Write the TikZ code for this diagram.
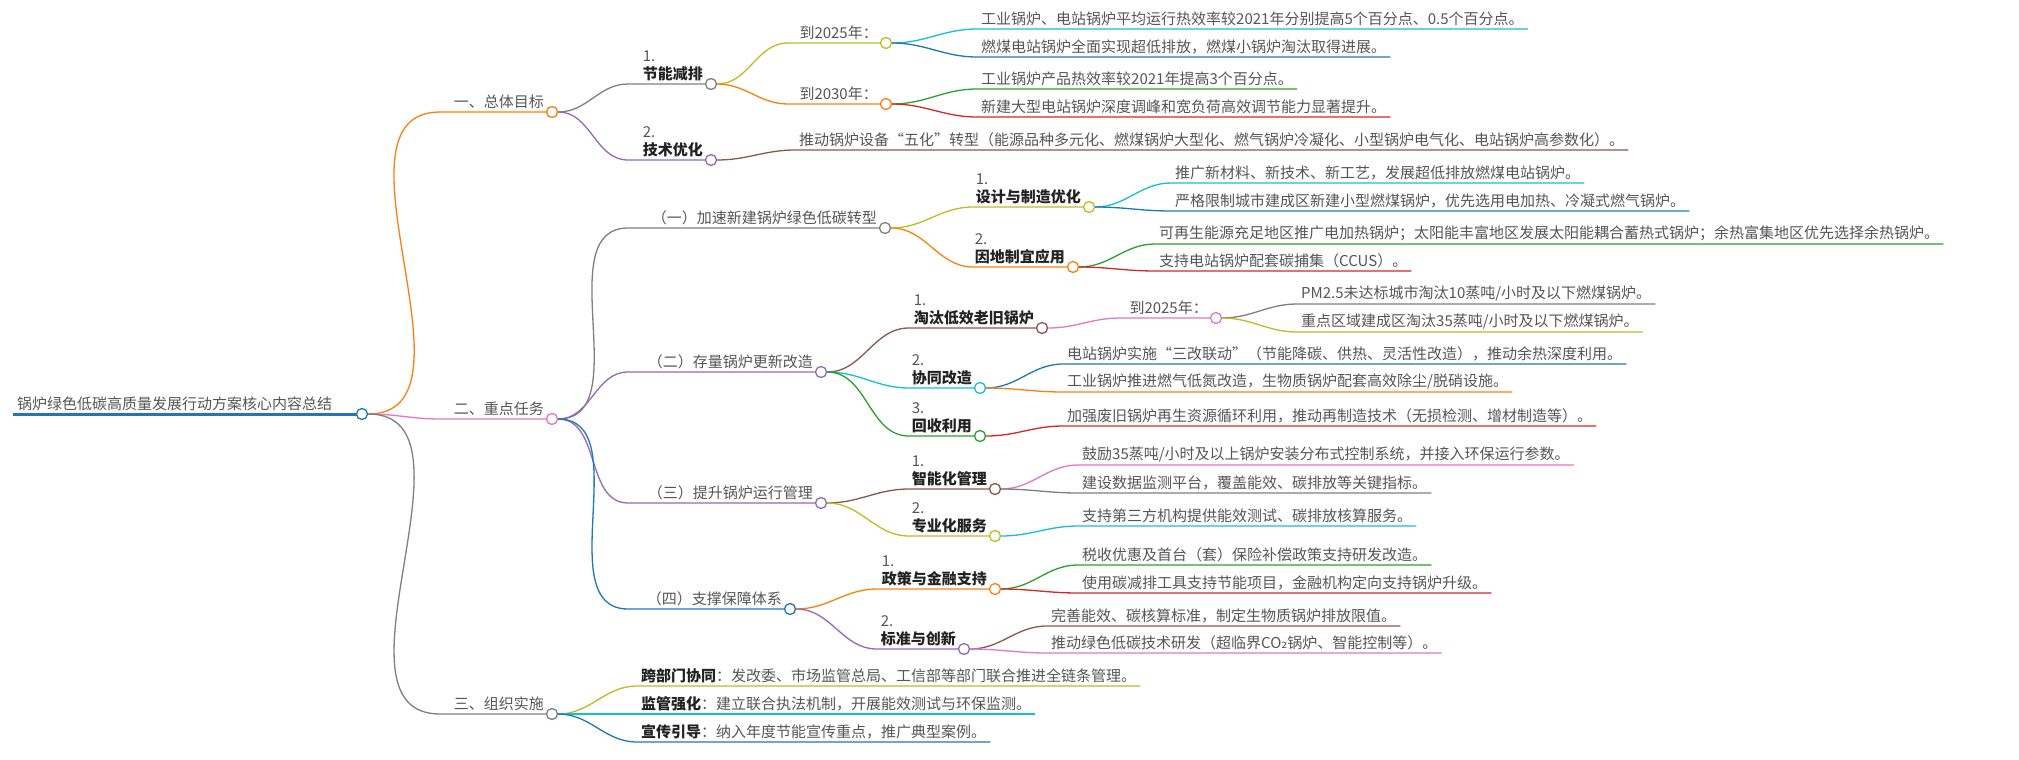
\documentclass[tikz,border=0pt]{standalone}
\usepackage{fontspec}
\setmainfont{Noto Sans CJK SC}
\newfontfamily\dejavu{DejaVu Sans}
\definecolor{cor}{HTML}{FF7F0E}
\definecolor{cpk}{HTML}{E377C2}
\definecolor{cgy}{HTML}{7F7F7F}
\definecolor{cpu}{HTML}{9467BD}
\definecolor{col}{HTML}{BCBD22}
\definecolor{ccy}{HTML}{17BECF}
\definecolor{cbl}{HTML}{1F77B4}
\definecolor{cgr}{HTML}{2CA02C}
\definecolor{crd}{HTML}{D62728}
\definecolor{cbr}{HTML}{8C564B}
\definecolor{tgray}{HTML}{555555}
\definecolor{tdark}{HTML}{222222}
\tikzset{
 txt/.style={font=\fontsize{15}{19}\selectfont, text=tgray, inner xsep=4pt, inner ysep=3pt, align=left},
 edge/.style={line width=1.3pt},
 circ/.style={circle, fill=white, line width=1.3pt, minimum size=11pt, inner sep=0pt},
}
\newcommand\mnode[7]{%
 \draw[edge,#3] (#2.east) to[out=0,in=180] (#4,#5) -- (#6,#5);
 \node[txt,anchor=south east] (#1t) at (#6-4,#5) {#7};
 \node[circ,draw=#3] (#1) at (#6,#5) {};
}
\newcommand\lnode[6]{%
 \node[txt,anchor=south west] (#1) at (#4-4,#5) {#6};
 \draw[edge,#3] (#2.east) to[out=0,in=180] (#1.south west) -- (#1.south east);
}
\newcommand\bl[2]{#1\\[-1pt]{\bfseries\color{tdark}#2}}
\begin{document}
\begin{tikzpicture}[x=1pt,y=-1pt]
\useasboundingbox (0,0) rectangle (2019,760);
% root
\coordinate (rs) at (13,414);
\draw[cbl,line width=3pt] (rs) -- (362,414);
\node[txt,anchor=south west] (roott) at (rs) {锅炉绿色低碳高质量发展行动方案核心内容总结};
\node[circ,draw=cbl] (root) at (362,414) {};
% level 1
\mnode{A}{root}{cor}{440}{112}{552}{一、总体目标}
\mnode{B}{root}{cpk}{440}{419}{552}{二、重点任务}
\mnode{C}{root}{cgy}{440}{714}{552}{三、组织实施}
% A
\mnode{A1}{A}{cgy}{628}{84}{711}{\bl{1.}{节能减排}}
\mnode{A2}{A}{cpu}{628}{160}{711}{\bl{2.}{技术优化}}
\mnode{A11}{A1}{col}{788}{43}{886}{到2025年：}
\mnode{A12}{A1}{cor}{788}{104}{886}{到2030年：}
\lnode{a1}{A11}{ccy}{981}{29}{工业锅炉、电站锅炉平均运行热效率较2021年分别提高5个百分点、0.5个百分点。}
\lnode{a2}{A11}{cbl}{981}{57}{燃煤电站锅炉全面实现超低排放，燃煤小锅炉淘汰取得进展。}
\lnode{a3}{A12}{cgr}{981}{89}{工业锅炉产品热效率较2021年提高3个百分点。}
\lnode{a4}{A12}{crd}{981}{117}{新建大型电站锅炉深度调峰和宽负荷高效调节能力显著提升。}
\lnode{a5}{A2}{cbr}{799}{150}{推动锅炉设备“五化”转型（能源品种多元化、燃煤锅炉大型化、燃气锅炉冷凝化、小型锅炉电气化、电站锅炉高参数化）。}
% B
\mnode{B1}{B}{cgy}{628}{228}{885}{（一）加速新建锅炉绿色低碳转型}
\mnode{B2}{B}{cpu}{628}{372}{821}{（二）存量锅炉更新改造}
\mnode{B3}{B}{cpu}{628}{503}{821}{（三）提升锅炉运行管理}
\mnode{B4}{B}{cbl}{628}{609}{790}{（四）支撑保障体系}
\mnode{B11}{B1}{col}{973}{207}{1089}{\bl{1.}{设计与制造优化}}
\mnode{B12}{B1}{cor}{973}{267}{1073}{\bl{2.}{因地制宜应用}}
\lnode{b1}{B11}{ccy}{1175}{183}{推广新材料、新技术、新工艺，发展超低排放燃煤电站锅炉。}
\lnode{b2}{B11}{cbl}{1175}{211}{严格限制城市建成区新建小型燃煤锅炉，优先选用电加热、冷凝式燃气锅炉。}
\lnode{b3}{B12}{cgr}{1159}{244}{可再生能源充足地区推广电加热锅炉；太阳能丰富地区发展太阳能耦合蓄热式锅炉；余热富集地区优先选择余热锅炉。}
\lnode{b4}{B12}{crd}{1159}{271}{支持电站锅炉配套碳捕集（CCUS）。}
\mnode{B21}{B2}{cbr}{909}{328}{1042}{\bl{1.}{淘汰低效老旧锅炉}}
\mnode{B22}{B2}{ccy}{909}{388}{980}{\bl{2.}{协同改造}}
\mnode{B23}{B2}{cgr}{909}{436}{980}{\bl{3.}{回收利用}}
\mnode{B211}{B21}{cpk}{1120}{318}{1216}{到2025年：}
\lnode{b5}{B211}{cgy}{1301}{304}{PM2.5未达标城市淘汰10蒸吨/小时及以下燃煤锅炉。}
\lnode{b6}{B211}{col}{1301}{332}{重点区域建成区淘汰35蒸吨/小时及以下燃煤锅炉。}
\lnode{b7}{B22}{cbl}{1067}{364}{电站锅炉实施“三改联动”（节能降碳、供热、灵活性改造），推动余热深度利用。}
\lnode{b8}{B22}{cor}{1067}{392}{工业锅炉推进燃气低氮改造，生物质锅炉配套高效除尘/脱硝设施。}
\lnode{b9}{B23}{crd}{1067}{426}{加强废旧锅炉再生资源循环利用，推动再制造技术（无损检测、增材制造等）。}
\mnode{B31}{B3}{cbr}{909}{489}{995}{\bl{1.}{智能化管理}}
\mnode{B32}{B3}{col}{909}{536}{995}{\bl{2.}{专业化服务}}
\lnode{b10}{B31}{cpk}{1082}{465}{鼓励35蒸吨/小时及以上锅炉安装分布式控制系统，并接入环保运行参数。}
\lnode{b11}{B31}{cgy}{1082}{493}{建设数据监测平台，覆盖能效、碳排放等关键指标。}
\lnode{b12}{B32}{ccy}{1082}{526}{支持第三方机构提供能效测试、碳排放核算服务。}
\mnode{B41}{B4}{cor}{877}{589}{995}{\bl{1.}{政策与金融支持}}
\mnode{B42}{B4}{cpu}{877}{649}{964}{\bl{2.}{标准与创新}}
\lnode{b13}{B41}{cgr}{1082}{565}{税收优惠及首台（套）保险补偿政策支持研发改造。}
\lnode{b14}{B41}{crd}{1082}{593}{使用碳减排工具支持节能项目，金融机构定向支持锅炉升级。}
\lnode{b15}{B42}{cbr}{1051}{626}{完善能效、碳核算标准，制定生物质锅炉排放限值。}
\lnode{b16}{B42}{cpk}{1051}{653}{推动绿色低碳技术研发（超临界CO{\dejavu ₂}锅炉、智能控制等）。}
% C
\lnode{c1}{C}{col}{641}{686}{{\bfseries\color{tdark}跨部门协同}：发改委、市场监管总局、工信部等部门联合推进全链条管理。}
\lnode{c2}{C}{ccy}{641}{714}{{\bfseries\color{tdark}监管强化}：建立联合执法机制，开展能效测试与环保监测。}
\lnode{c3}{C}{cbl}{641}{742}{{\bfseries\color{tdark}宣传引导}：纳入年度节能宣传重点，推广典型案例。}
\end{tikzpicture}
\end{document}
